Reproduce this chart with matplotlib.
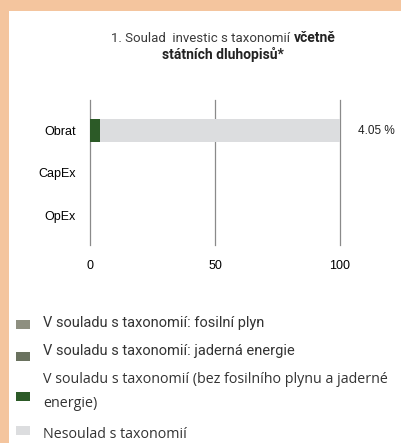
import matplotlib.pyplot as plt
from matplotlib.patches import Rectangle

# Data
categories = ["Obrat", "CapEx", "OpEx"]
aligned_ex = [4.05, 0, 0]      # taxonomy-aligned (no gas / nuclear)
not_aligned = [95.95, 0, 0]
value_labels = ["4.05 %", "", ""]
xticks = [0, 50, 100]

legend_labels = [
    "V souladu s taxonomií: fosilní plyn",
    "V souladu s taxonomií: jaderná energie",
    "V souladu s taxonomií (bez fosilního plynu a jaderné\nenergie)",
    "Nesoulad s taxonomií",
]
legend_colors = ["#8e8f80", "#6a725f", "#2c5a27", "#dcdddf"]

W, H = 401, 443
fig = plt.figure(figsize=(W / 100, H / 100), dpi=100)
fig.patch.set_facecolor("#f4c59e")
fig.add_artist(Rectangle((9 / W, 0), 1, 1 - 11 / H, transform=fig.transFigure,
                         facecolor="white", edgecolor="none", zorder=0))


def px(x, y):
    return x / W, 1 - y / H


# Title
fig.text(*px(290, 38), "1. Soulad  investic s taxonomií", family="Roboto",
         fontsize=9.5, va="center", ha="right", color="#3a3a3a")
fig.text(*px(294, 38), "včetně", family="Roboto", fontsize=10, va="center",
         ha="left", color="#222222", weight="bold")
fig.text(*px(223, 55), "státních dluhopisů*", family="Roboto", fontsize=10,
         va="center", ha="center", color="#222222", weight="bold")

# Chart
ax = fig.add_axes([90 / W, 1 - 245 / H, 250 / W, 145 / H])
ax.set_facecolor("none")
y = range(len(categories))
ax.barh(y, aligned_ex, height=0.56, color=legend_colors[2], zorder=2)
ax.barh(y, not_aligned, left=aligned_ex, height=0.56, color=legend_colors[3], zorder=2)
ax.set_xlim(0, 100)
ax.set_ylim(2.7, -0.72)
ax.set_yticks(list(y))
ax.set_yticklabels(categories, family="Liberation Sans", fontsize=9)
ax.set_xticks(xticks)
ax.set_xticklabels([str(t) for t in xticks], family="Liberation Sans", fontsize=9)
ax.tick_params(axis="y", length=0, pad=10)
ax.tick_params(axis="x", length=0, pad=11)
for s in ax.spines.values():
    s.set_visible(False)
for t in xticks:
    ax.axvline(t, color="#8a8a8a", lw=0.9, zorder=1, clip_on=False)
for i, lab in enumerate(value_labels):
    if lab:
        ax.text(107, i, lab, family="Liberation Sans", fontsize=8.5, va="center",
                ha="left", color="#222222", clip_on=False)

# Legend
legend_y = [323, 351, 391.5, 434]
square_y = [324, 356, 396, 430]
fonts = ["Roboto", "Roboto", "Open Sans", "Open Sans"]
sizes = [10.5, 10.5, 10.3, 10.3]
for lab, col, ty, sy, fam, fs in zip(legend_labels, legend_colors, legend_y,
                                      square_y, fonts, sizes):
    fig.add_artist(Rectangle(px(16, sy + 4.5), 14 / W, 9 / H, transform=fig.transFigure,
                             facecolor=col, edgecolor="none"))
    fig.text(*px(43, ty), lab, family=fam, fontsize=fs, va="center", ha="left",
             color="#333333", linespacing=1.8)

fig.savefig("out.png", dpi=100)
